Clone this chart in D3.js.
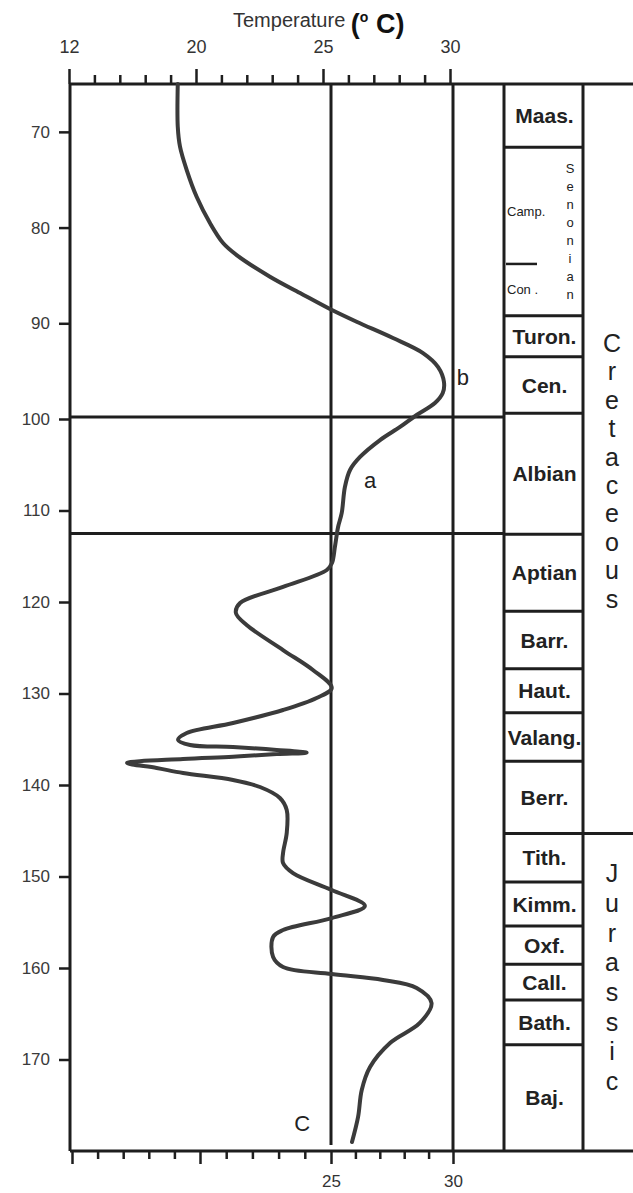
<!DOCTYPE html>
<html><head><meta charset="utf-8">
<script src="https://cdn.jsdelivr.net/npm/d3@7"></script>
<style>html,body{margin:0;padding:0;background:#fff;} svg{display:block}</style>
</head><body><svg id="c" width="633" height="1193"></svg>
<script>
// ---- data ----
const ages  = [65.0,69.46,71.55,73.99,76.78,79.52,81.61,82.87,85.13,86.84,88.51,89.84,91.54,93.11,94.57,96.14,97.29,98.33,99.58,100.87,102.30,104.15,105.57,107.43,110.27,111.80,113.99,115.74,116.50,118.36,120.11,121.20,122.51,125.25,127.43,129.40,130.49,131.80,133.22,134.32,135.08,135.63,135.85,136.17,136.47,136.61,136.91,137.16,137.60,138.14,138.69,139.45,140.22,141.42,142.73,145.25,147.43,148.52,149.62,151.48,153.22,154.54,155.85,156.61,158.80,159.89,160.66,161.31,162.19,163.83,166.01,168.20,170.82,173.33,176.28,179.02];
const temps = [18.61,18.61,18.75,19.17,19.79,20.38,20.88,21.40,22.67,23.82,24.96,26.05,27.54,28.77,29.39,29.63,29.58,29.26,28.51,27.83,27.01,26.19,25.78,25.57,25.44,25.29,25.16,25.04,24.84,23.17,21.53,21.37,21.78,23.17,24.31,25.03,24.45,23.17,21.26,19.17,18.63,19.38,21.26,22.93,24.07,22.93,21.26,18.94,15.44,17.29,18.94,21.26,22.29,23.05,23.31,23.31,23.17,23.17,23.55,25.03,26.39,25.03,23.17,22.79,22.79,23.17,25.03,27.13,28.51,29.12,28.64,27.42,26.60,26.26,26.11,25.86];

const tempTicks = [12,13.6,15.2,16.8,18.4,20,21,22,23,24,25,26,27,28,29,30];
const tempMajor = [12,20,25,30];
const topLabels = [12,20,25,30];
const bottomLabels = [25,30];
const ageTicks = [70,80,90,100,110,120,130,140,150,160,170];
const refTemps = [25,30];
const refAges = [99.8,112.5];

const stageNames = ["Maas.","","Turon.","Cen.","Albian","Aptian","Barr.","Haut.","Valang.","Berr.","Tith.","Kimm.","Oxf.","Call.","Bath.","Baj."];
const stageTops  = [65,71.6,89.2,93.5,99.4,112.6,121.0,127.3,132.1,137.4,145.3,150.6,155.4,159.6,163.5,168.4];
const subNames = ["Camp.","Con ."];
const subTops  = [71.6,83.8];
const subGroup = "Senonian";
const periodNames = ["Cretaceous","Jurassic"];
const periodTops  = [65,145.3];
const ageMax = 180;

const annLabels = ["a","b","C"];
const annTemps  = [26.6,30.4,23.9];
const annAges   = [106.7,95.6,176.9];

// ---- layout ----
const W = 633;
const colA = 504, colB = 583;
const x = d3.scaleLinear().domain([12,20,25,30]).range([72,200,331,453]);
const xTop = d3.scaleLinear().domain([12,20,30]).range([69,196,450]);
const y = d3.scaleLinear().domain([65,100,180]).range([84,419,1151]);
const periodShift = [12,-15];
const periodStep = [28.4,29.7];
const svg = d3.select("#c");
const ink = "#1e1e1e";
const font = "'Liberation Sans', Arial, sans-serif";

// title
const title = svg.append("text").attr("x",233).attr("y",27)
  .attr("font-family",font).attr("fill","#333");
title.append("tspan").attr("font-size",20).text("Temperature ");
title.append("tspan").attr("font-size",27).attr("font-weight","bold").attr("dy",6).attr("fill","#111").text("(");
title.append("tspan").attr("font-size",14).attr("font-weight","bold").attr("dy",-11).attr("fill","#111").text("o");
title.append("tspan").attr("font-size",27).attr("font-weight","bold").attr("dy",11).attr("fill","#111").text(" C)");

// top axis
const topAx = svg.append("g").attr("transform",`translate(0,${y(65)})`)
  .call(d3.axisTop(xTop).tickValues(tempTicks).tickSizeOuter(0).tickSize(9).tickPadding(22)
    .tickFormat(d => topLabels.includes(d) ? d : ""));
topAx.select(".domain").remove();
topAx.selectAll(".tick line").attr("stroke",ink).attr("stroke-width",2.5)
  .attr("y2", d => tempMajor.includes(d) ? -15 : -9);
topAx.selectAll(".tick text").attr("font-family",font).attr("font-size",18).attr("fill","#333");

// bottom axis
const botAx = svg.append("g").attr("transform",`translate(0,${y(ageMax)})`)
  .call(d3.axisBottom(x).tickValues(tempTicks).tickSizeOuter(0).tickSize(8).tickPadding(16)
    .tickFormat(d => bottomLabels.includes(d) ? d : ""));
botAx.select(".domain").remove();
botAx.selectAll(".tick line").attr("stroke",ink).attr("stroke-width",2.5)
  .attr("y2", d => tempMajor.includes(d) ? 13 : 8);
botAx.selectAll(".tick text").attr("font-family",font).attr("font-size",17).attr("fill","#333");

// left axis
const leftAx = svg.append("g").attr("transform",`translate(${x(12)-2},0)`)
  .call(d3.axisLeft(y).tickValues(ageTicks).tickSize(11).tickPadding(9));
leftAx.select(".domain").remove();
leftAx.selectAll(".tick line").attr("stroke",ink).attr("stroke-width",2.5);
leftAx.selectAll(".tick text").attr("font-family",font).attr("font-size",17).attr("fill","#3a3a3a");

// frame lines
const frame = svg.append("g").attr("stroke",ink).attr("stroke-width",3).attr("fill","none");
frame.append("line").attr("x1",x(12)-2).attr("x2",W).attr("y1",y(65)).attr("y2",y(65));
frame.append("line").attr("x1",x(12)-2).attr("x2",W).attr("y1",y(ageMax)).attr("y2",y(ageMax));
frame.append("line").attr("x1",x(12)-2).attr("x2",x(12)-2).attr("y1",y(65)).attr("y2",y(ageMax));
frame.selectAll(".vt").data(refTemps).enter().append("line")
  .attr("x1",d=>x(d)).attr("x2",d=>x(d)).attr("y1",y(65)).attr("y2",(d,i)=> i===0 ? y(ageMax)-6 : y(ageMax));
frame.selectAll(".hz").data(refAges).enter().append("line")
  .attr("x1",x(12)-2).attr("x2",colA).attr("y1",d=>y(d)).attr("y2",d=>y(d));
frame.append("line").attr("x1",colA).attr("x2",colA).attr("y1",y(65)).attr("y2",y(ageMax));
frame.append("line").attr("x1",colB).attr("x2",colB).attr("y1",y(65)).attr("y2",y(ageMax));

// stages
const stages = stageNames.map((n,i)=>({name:n, t:stageTops[i], b: i<stageTops.length-1 ? stageTops[i+1] : ageMax}));
const sg = svg.append("g");
sg.selectAll("line").data(stages.slice(1)).enter().append("line")
  .attr("x1",colA).attr("x2",colB).attr("y1",d=>y(d.t)).attr("y2",d=>y(d.t))
  .attr("stroke",ink).attr("stroke-width",3);
sg.selectAll("text").data(stages.filter(d=>d.name)).enter().append("text")
  .attr("x",(colA+colB)/2+1).attr("y",d=>y((d.t+d.b)/2)).attr("dy","0.36em")
  .attr("text-anchor","middle").attr("font-family",font).attr("font-weight","bold")
  .attr("font-size",21).attr("fill","#222").text(d=>d.name);

// Senonian sub-stages
const sen = stages[1];
const subs = subNames.map((n,i)=>({name:n, t:subTops[i], b: i<subTops.length-1 ? subTops[i+1] : sen.b}));
svg.append("line").attr("x1",colA+2).attr("x2",colA+33).attr("y1",y(subTops[1])).attr("y2",y(subTops[1]))
  .attr("stroke",ink).attr("stroke-width",2.5);
svg.append("g").selectAll("text").data(subs).enter().append("text")
  .attr("x",colA+3).attr("y",(d,i)=>y((d.t+d.b)/2)+(i===0?6:0)).attr("dy","0.36em")
  .attr("font-family",font).attr("font-size",13).attr("fill","#222").text(d=>d.name);
const senMid = (y(sen.t)+y(sen.b))/2;
const senLetters = subGroup.split("");
svg.append("g").selectAll("text").data(senLetters).enter().append("text")
  .attr("x",colB-13).attr("y",(d,i)=>senMid+(i-(senLetters.length-1)/2)*18).attr("dy","0.36em")
  .attr("text-anchor","middle").attr("font-family",font).attr("font-size",13).attr("fill","#222").text(d=>d);

// periods
const periods = periodNames.map((n,i)=>({name:n, t:periodTops[i], b: i<periodTops.length-1 ? periodTops[i+1] : ageMax}));
svg.append("g").selectAll("line").data(periods.slice(1)).enter().append("line")
  .attr("x1",colB).attr("x2",W).attr("y1",d=>y(d.t)).attr("y2",d=>y(d.t)).attr("stroke",ink).attr("stroke-width",3);
periods.forEach((p,k)=>{
  const letters = p.name.split("");
  const mid = (y(p.t)+y(p.b))/2 + periodShift[k];
  svg.append("g").selectAll("text").data(letters).enter().append("text")
    .attr("x",colB+29).attr("y",(d,i)=>mid+(i-(letters.length-1)/2)*periodStep[k]).attr("dy","0.36em")
    .attr("text-anchor","middle").attr("font-family",font).attr("font-size",25).attr("fill","#222").text(d=>d);
});

// curve
const pts = ages.map((a,i)=>({a, t:temps[i]}));
svg.append("path").datum(pts)
  .attr("d", d3.line().x(d=>x(d.t)).y(d=>y(d.a)).curve(d3.curveCatmullRom.alpha(0.5)))
  .attr("fill","none").attr("stroke","#3b3b3b").attr("stroke-width",4)
  .attr("stroke-linejoin","round").attr("stroke-linecap","round");

// annotations
svg.append("g").selectAll("text").data(annLabels).enter().append("text")
  .attr("x",(d,i)=>x(annTemps[i])).attr("y",(d,i)=>y(annAges[i])).attr("dy","0.36em")
  .attr("text-anchor","middle").attr("font-family",font).attr("font-size",22).attr("fill","#222").text(d=>d);
</script></body></html>
